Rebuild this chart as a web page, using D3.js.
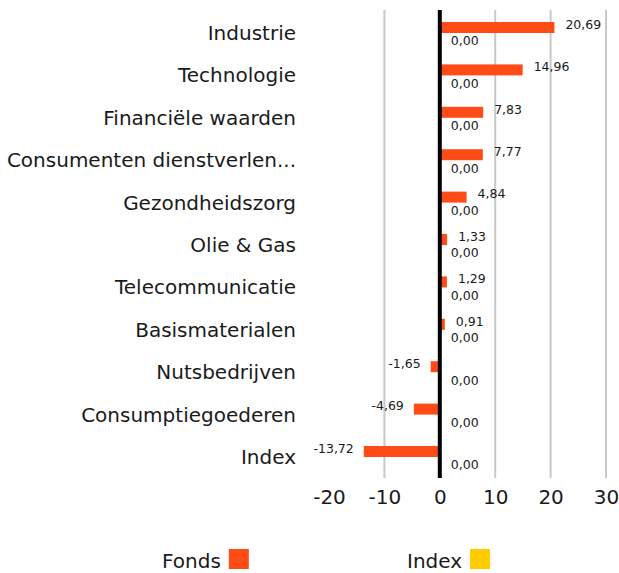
<!DOCTYPE html>
<html>
<head>
<meta charset="utf-8">
<script src="https://cdn.jsdelivr.net/npm/d3@7"></script>
<style>
  body { margin: 0; background: #fff; }
  text { font-family: "DejaVu Sans", "Noto Sans", sans-serif; fill: #1a1a1a; }
</style>
</head>
<body>
<div id="chart"></div>
<script>
// data
var categories = ["Industrie", "Technologie", "Financiële waarden", "Consumenten dienstverlen...",
    "Gezondheidszorg", "Olie & Gas", "Telecommunicatie", "Basismaterialen",
    "Nutsbedrijven", "Consumptiegoederen", "Index"];
var fondsValues = [20.69, 14.96, 7.83, 7.77, 4.84, 1.33, 1.29, 0.91, -1.65, -4.69, -13.72];
var indexValues = [0, 0, 0, 0, 0, 0, 0, 0, 0, 0, 0];
var xTicks = [-20, -10, 0, 10, 20, 30];
var seriesNames = ["Fonds", "Index"];
var colors = ["#ff4c17", "#ffcc00"];

var width = 619, height = 573;
// dutch style numbers with a plain hyphen
var fmt = function(v) { return v.toFixed(2).replace(".", ","); };

var svg = d3.select("#chart").append("svg")
    .attr("width", width)
    .attr("height", height);

var x = d3.scaleLinear()
    .domain([-20, 30])
    .range([329, 606]);

var y = d3.scaleBand()
    .domain(categories)
    .range([11.8, 478.2]);

var inner = d3.scaleBand()
    .domain(seriesNames)
    .range([0, y.bandwidth()])
    .paddingInner(0)
    .paddingOuter(0.93);

// grid lines (no line on the left edge)
svg.append("g").selectAll("line")
    .data(xTicks.filter(function(d) { return d !== 0 && d !== -20; }))
    .enter().append("line")
    .attr("x1", function(d) { return x(d); })
    .attr("x2", function(d) { return x(d); })
    .attr("y1", 10)
    .attr("y2", 478)
    .attr("stroke", "#c8c8c8")
    .attr("stroke-width", 2);

// x axis tick labels
var xAxis = d3.axisBottom(x)
    .tickValues(xTicks)
    .tickFormat(function(d) { return String(d); })
    .tickSize(0)
    .tickPadding(0);
var gx = svg.append("g")
    .attr("transform", "translate(0,488)")
    .call(xAxis);
gx.select(".domain").remove();
gx.selectAll("text")
    .attr("font-size", 20)
    .attr("dy", "0.8em")
    .style("font-family", "'DejaVu Sans', sans-serif")
    .attr("fill", "#1a1a1a");

// category labels
svg.append("g").selectAll("text")
    .data(categories)
    .enter().append("text")
    .attr("x", 296)
    .attr("y", function(d) { return y(d) + y.bandwidth() / 2; })
    .attr("dy", "0.35em")
    .attr("text-anchor", "end")
    .attr("font-size", 20)
    .text(function(d) { return d; });

// fonds bars
svg.append("g").selectAll("rect")
    .data(fondsValues)
    .enter().append("rect")
    .attr("x", function(d) { return x(Math.min(0, d)); })
    .attr("y", function(d, i) { return y(categories[i]) + inner("Fonds"); })
    .attr("width", function(d) { return Math.abs(x(d) - x(0)); })
    .attr("height", inner.bandwidth())
    .attr("fill", colors[0]);

// index bars (all zero)
svg.append("g").selectAll("rect")
    .data(indexValues)
    .enter().append("rect")
    .attr("x", function(d) { return x(Math.min(0, d)); })
    .attr("y", function(d, i) { return y(categories[i]) + inner("Index"); })
    .attr("width", function(d) { return Math.abs(x(d) - x(0)); })
    .attr("height", inner.bandwidth())
    .attr("fill", colors[1]);

// fonds value labels
svg.append("g").selectAll("text")
    .data(fondsValues)
    .enter().append("text")
    .attr("x", function(d) { return d >= 0 ? x(d) + 11 : x(d) - 10; })
    .attr("y", function(d, i) { return y(categories[i]) + inner("Fonds") + inner.bandwidth() / 2 - 3; })
    .attr("dy", "0.35em")
    .attr("text-anchor", function(d) { return d >= 0 ? "start" : "end"; })
    .attr("font-size", 12.5)
    .text(fmt);

// index value labels
svg.append("g").selectAll("text")
    .data(indexValues)
    .enter().append("text")
    .attr("x", function(d) { return x(d) + 11; })
    .attr("y", function(d, i) { return y(categories[i]) + inner("Index") + inner.bandwidth() / 2 + 2.5; })
    .attr("dy", "0.35em")
    .attr("font-size", 12.5)
    .text(fmt);

// zero line
svg.append("line")
    .attr("x1", x(0)).attr("x2", x(0))
    .attr("y1", 10).attr("y2", 478)
    .attr("stroke", "#000")
    .attr("stroke-width", 4);

// legend
var legendX = [162, 407];
var legend = svg.append("g").selectAll("g")
    .data(seriesNames)
    .enter().append("g")
    .attr("transform", function(d, i) { return "translate(" + legendX[i] + ",549)"; });

legend.append("text")
    .attr("x", 0)
    .attr("y", 19)
    .attr("font-size", 20)
    .text(function(d) { return d; });

legend.each(function(d, i) {
    var g = d3.select(this);
    var w = g.select("text").node().getComputedTextLength();
    g.append("rect")
        .attr("x", w + 8)
        .attr("y", 0)
        .attr("width", 20)
        .attr("height", 20)
        .attr("fill", colors[i]);
});
</script>
</body>
</html>
